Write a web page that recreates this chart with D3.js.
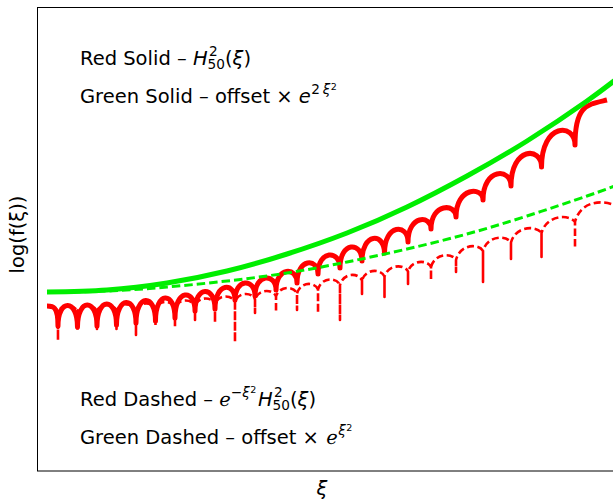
<!DOCTYPE html>
<html>
<head>
<meta charset="utf-8">
<script src="https://cdn.jsdelivr.net/npm/d3@7"></script>
<style>
  body { margin: 0; background: #fff; }
  text { font-family: "DejaVu Sans", sans-serif; fill: #000; white-space: pre; }
</style>
</head>
<body>
<div id="chart"></div>
<script>
// zeros of H_50 (xi positions of the cusps)
const zeroXi = [0.183, 0.508, 0.833, 1.158, 1.483, 1.808, 2.133, 2.467, 2.800, 3.133, 3.467, 3.817,
  4.167, 4.517, 4.883, 5.250, 5.625, 6.017, 6.400, 6.817, 7.267, 7.733, 8.242, 8.800];

// red solid: value at xi = 0, bottom of each cusp, top of each arch (last one = partial arch), end point
const solidStart = 16.5;
const solidDip = [14.5, 14.4, 14.5, 14.6, 14.8, 15.0, 15.3, 16.0, 16.2, 17.1, 17.5, 18.1,
  18.8, 19.7, 20.3, 21.0, 21.8, 22.9, 24.2, 25.4, 27.1, 28.5, 30.4, 32.6];
const solidPeak = [16.55, 16.6, 16.7, 16.85, 17.05, 17.3, 17.6, 17.95, 18.35, 18.8, 19.3, 19.95,
  20.8, 21.6, 22.4, 23.25, 24.15, 25.1, 26.3, 27.9, 29.7, 31.7, 34.0, 36.2];
const solidEnd = [9.333, 37.1];

// red dashed: same zeros, arches meet at a junction then a spike goes down
const dashStart = 16.5;
const dashJoin = [15.9, 15.95, 16.0, 16.05, 16.1, 16.2, 16.35, 16.5, 16.7, 16.9, 17.15, 17.45,
  17.75, 18.15, 18.6, 19.05, 19.45, 19.95, 20.4, 21.1, 22.0, 22.85, 23.8, 24.9];
const dashDip = [13.1, 14.1, 14.2, 14.2, 13.6, 14.5, 14.3, 15.1, 14.9, 12.9, 15.8, 15.9,
  16.1, 15.8, 15.1, 17.7, 17.4, 18.7, 19.1, 19.9, 18.9, 21.2, 21.4, 22.3];
const dashPeak = [16.5, 16.55, 16.6, 16.65, 16.75, 16.9, 17.05, 17.25, 17.45, 17.7, 18.0, 18.3,
  18.7, 19.15, 19.6, 20.0, 20.45, 20.9, 21.55, 22.45, 23.3, 24.25, 25.35, 26.75];
const dashEnd = [9.45, 26.6];

// green curves sampled along xi
const greenXi = [0, 1, 2, 3, 4, 5, 6, 7, 8, 9, 9.6];
const greenSolid = [17.9, 18.1, 18.8, 20.0, 21.7, 23.8, 26.4, 29.5, 33.0, 37.0, 39.7];
const greenDashed = [17.9, 18.0, 18.4, 19.0, 19.8, 20.9, 22.2, 23.7, 25.5, 27.5, 28.8];

const width = 613, height = 502;
const margin = { L: 37.5, T: 7.5, B: 471 };
const FS = 19.5;

const svg = d3.select('#chart').append('svg')
  .attr('width', width).attr('height', height);

const x = d3.scaleLinear().domain([-0.1667, 9.4333]).range([37, 613]);
const y = d3.scaleLinear().domain([0, 46.35]).range([471, 7.5]);

// frame (right side runs off the picture)
svg.append('rect')
  .attr('x', margin.L).attr('y', margin.T)
  .attr('width', 700).attr('height', margin.B - margin.T)
  .attr('fill', 'none').attr('stroke', '#000').attr('stroke-width', 1);

const plot = svg.append('g');

// one arch as a cubic: both control points at the same height so the middle reaches `top`
function arch(p, xa, ya, xb, yb, top, f1, f2) {
  const w = xb - xa;
  const k = (8 * top - ya - yb) / 6;
  p.bezierCurveTo(xa + f1 * w, k, xb - f2 * w, k, xb, yb);
}

// red solid
const ps = d3.path();
{
  const xa = x(0), ya = y(solidStart), xb = x(zeroXi[0]), yb = y(solidDip[0]);
  ps.moveTo(xa, ya);
  ps.bezierCurveTo(xa + 0.55 * (xb - xa), ya, xb, ya, xb, yb);
  for (let i = 0; i < zeroXi.length - 1; i++) {
    arch(ps, x(zeroXi[i]), y(solidDip[i]), x(zeroXi[i + 1]), y(solidDip[i + 1]), y(solidPeak[i]), 0, 0);
  }
  const n = zeroXi.length - 1;
  arch(ps, x(zeroXi[n]), y(solidDip[n]), x(solidEnd[0]), y(solidEnd[1]), y(solidPeak[n]), 0, 0.6);
}
plot.append('path').attr('d', ps.toString())
  .attr('fill', 'none').attr('stroke', '#ff0000').attr('stroke-width', 5)
  .attr('stroke-linejoin', 'round').attr('stroke-linecap', 'butt');

// green solid
const gLine = d3.line().x(d => x(d[0])).y(d => y(d[1])).curve(d3.curveNatural);
plot.append('path').attr('d', gLine(greenXi.map((v, i) => [v, greenSolid[i]])))
  .attr('fill', 'none').attr('stroke', '#00ee00').attr('stroke-width', 5);

// red dashed
const pd = d3.path();
{
  const xa = x(0), ya = y(dashStart), xb = x(zeroXi[0]), yb = y(dashJoin[0]);
  pd.moveTo(xa, ya);
  pd.bezierCurveTo(xa + 0.5 * (xb - xa), ya, xb - 0.15 * (xb - xa), ya, xb, yb);
  pd.lineTo(xb, y(dashDip[0]));
  pd.lineTo(xb, yb);
  for (let i = 0; i < zeroXi.length - 1; i++) {
    const x1 = x(zeroXi[i + 1]), y1 = y(dashJoin[i + 1]);
    arch(pd, x(zeroXi[i]), y(dashJoin[i]), x1, y1, y(dashPeak[i]), 0.15, 0.15);
    pd.lineTo(x1, y(dashDip[i + 1]));
    pd.lineTo(x1, y1);
  }
  const n = zeroXi.length - 1;
  arch(pd, x(zeroXi[n]), y(dashJoin[n]), x(dashEnd[0]), y(dashEnd[1]), y(dashPeak[n]), 0.15, 0.3);
}
plot.append('path').attr('d', pd.toString())
  .attr('fill', 'none').attr('stroke', '#ff0000').attr('stroke-width', 2.6)
  .attr('stroke-dasharray', '7,3.5').attr('stroke-linejoin', 'round');

// green dashed
plot.append('path').attr('d', gLine(greenXi.map((v, i) => [v, greenDashed[i]])))
  .attr('fill', 'none').attr('stroke', '#00ee00').attr('stroke-width', 3)
  .attr('stroke-dasharray', '8.5,4');

// labels with super/subscripts, laid out piece by piece
function mathText(x0, y0, pieces) {
  let cx = x0, held = 0;
  pieces.forEach(pc => {
    const t = svg.append('text')
      .attr('x', cx + (pc.kx || 0))
      .attr('y', y0 + (pc.dy || 0) * FS)
      .attr('font-size', FS * (pc.s || 1))
      .attr('font-style', pc.it ? 'italic' : 'normal')
      .text(pc.t);
    const w = t.node().getComputedTextLength() + (pc.kx || 0);
    if (pc.hold) { held = w; return; }
    cx += Math.max(w, held);
    held = 0;
  });
}

const sup = -0.42, sub = 0.25, sup2 = -0.66;

mathText(80, 64.5, [
  { t: 'Red Solid – ' }, { t: 'H', it: 1 },
  { t: '2', s: 0.7, dy: sup, hold: 1, kx: 1.5 }, { t: '50', s: 0.7, dy: sub },
  { t: '(' }, { t: 'ξ', it: 1 }, { t: ')' }
]);
mathText(80, 102.5, [
  { t: 'Green Solid – offset × ' }, { t: 'e', it: 1 },
  { t: '2\u2009', s: 0.7, dy: sup, kx: 0.5 }, { t: 'ξ', it: 1, s: 0.7, dy: sup },
  { t: '2', s: 0.49, dy: sup2, kx: 0.5 }
]);
mathText(80, 405.5, [
  { t: 'Red Dashed – ' }, { t: 'ℯ' },
  { t: '−', s: 0.7, dy: sup }, { t: 'ξ', it: 1, s: 0.7, dy: sup },
  { t: '2', s: 0.49, dy: sup2, kx: 0.5 }, { t: 'H', it: 1, kx: 1.5 },
  { t: '2', s: 0.7, dy: sup, hold: 1, kx: 1.5 }, { t: '50', s: 0.7, dy: sub },
  { t: '(' }, { t: 'ξ', it: 1 }, { t: ')' }
]);
mathText(80, 443.5, [
  { t: 'Green Dashed – offset × ' }, { t: 'ℯ', kx: 1 },
  { t: 'ξ', it: 1, s: 0.7, dy: sup, kx: 0.5 },
  { t: '2', s: 0.49, dy: sup2, kx: 0.5 }
]);

// axis titles (no ticks on this chart)
svg.append('text')
  .attr('x', 322).attr('y', 495)
  .attr('text-anchor', 'middle')
  .attr('font-size', FS).attr('font-style', 'italic')
  .text('ξ');
svg.append('text')
  .attr('transform', 'translate(24, 234.5) rotate(-90)')
  .attr('text-anchor', 'middle')
  .attr('font-size', FS)
  .text('log(f(ξ))');
</script>
</body>
</html>
